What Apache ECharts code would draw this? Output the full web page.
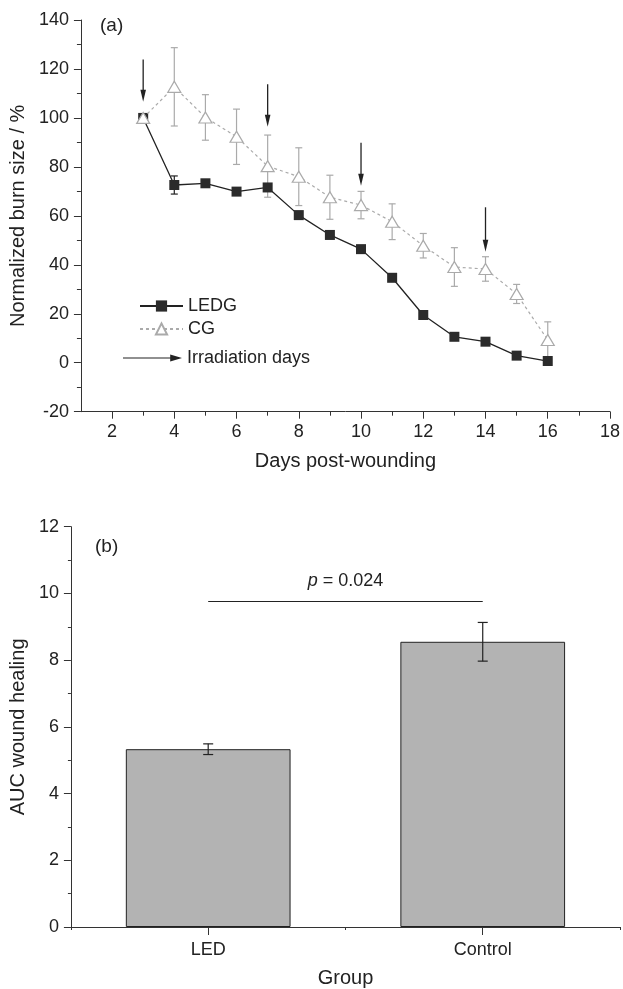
<!DOCTYPE html>
<html><head><meta charset="utf-8">
<script src="https://cdn.jsdelivr.net/npm/echarts@6/dist/echarts.min.js"></script>
<style>html,body{margin:0;padding:0;background:#fff}#c{width:623px;height:989px}</style>
</head><body><div id="c"></div>
<script>
// ---- Panel (a) data ----
const days = [3,4,5,6,7,8,9,10,11,12,13,14,15,16];
const ledgMean = [100,72.6,73.3,69.9,71.6,60.3,52.2,46.4,34.7,19.5,10.6,8.6,2.9,0.7];
const ledgErr  = [0.5,3.7,1,1,1,1.5,1.5,0.8,0.8,0.8,0.8,0.8,0.8,1];
const cgMean   = [100,112.7,100.2,92.3,80.3,76,67.6,64.4,57.6,47.8,39.1,38.3,28.1,9.3];
const cgErr    = [0.5,16,9.3,11.3,12.7,11.8,9,5.6,7.3,5,7.9,5,3.9,7.4];
const irradiationDays = [3,7,10,14];
const arrowTop = [123.9,113.8,89.9,63.5];
const arrowTip = [106.6,96.4,72.3,45.3];
const xTickEven = [2,4,6,8,10,12,14,16,18];
const xTickOdd  = [3,5,7,9,11,13,15,17];
// ---- Panel (b) data ----
const groups = ['LED','Control'];
const aucMean = [5.33,8.55];
const aucErr  = [0.16,0.58];
const pValue = '0.024';
const pLineY = 9.78;

const FONT = 'Liberation Sans, Arial, sans-serif';
const TXT = '#222';
const AX = '#333';

function errRender(color, capHalf){
  return function(params, api){
    const x = api.value(0), lo = api.value(1), hi = api.value(2);
    const p1 = api.coord([x, hi]), p2 = api.coord([x, lo]);
    const style = {stroke: color, lineWidth: 1.2, fill: null};
    return {type:'group', children:[
      {type:'line', shape:{x1:p1[0],y1:p1[1],x2:p2[0],y2:p2[1]}, style},
      {type:'line', shape:{x1:p1[0]-capHalf,y1:p1[1],x2:p1[0]+capHalf,y2:p1[1]}, style},
      {type:'line', shape:{x1:p2[0]-capHalf,y1:p2[1],x2:p2[0]+capHalf,y2:p2[1]}, style}
    ]};
  };
}
function arrowRender(params, api){
  const x = api.value(0);
  const a = api.coord([x, api.value(1)]), b = api.coord([x, api.value(2)]);
  return {type:'group', children:[
    {type:'line', shape:{x1:a[0],y1:a[1],x2:b[0],y2:b[1]-8}, style:{stroke:'#222', lineWidth:1.3}},
    {type:'polygon', shape:{points:[[b[0]-2.8,b[1]-12],[b[0]+2.8,b[1]-12],[b[0],b[1]]]}, style:{fill:'#222'}}
  ]};
}

const chart = echarts.init(document.getElementById('c'));
const yAxisCommon = {
  axisLine:{show:true, lineStyle:{color:AX, width:1}},
  axisTick:{show:true, length:7, lineStyle:{color:AX}},
  minorTick:{show:true, splitNumber:2, length:4, lineStyle:{color:AX}},
  splitLine:{show:false}, minorSplitLine:{show:false},
  axisLabel:{fontSize:18, color:TXT, margin:12, fontFamily:FONT},
  nameLocation:'middle', nameTextStyle:{fontSize:20, color:TXT, fontFamily:FONT}
};
chart.setOption({
  animation:false,
  backgroundColor:'#fff',
  textStyle:{fontFamily:FONT},
  grid:[
    {left:80, right:13, top:20, height:391.7},
    {left:69, right:3, top:526.7, height:402}
  ],
  xAxis:[
    {type:'value', gridIndex:0, min:1, max:18, interval:1, position:'bottom',
     axisLine:{show:true, onZero:false, lineStyle:{color:AX}},
     axisTick:{show:true, length:7, customValues:xTickEven, lineStyle:{color:AX}},
     axisLabel:{customValues:xTickEven, fontSize:18, color:TXT, margin:11, fontFamily:FONT},
     splitLine:{show:false},
     name:'Days post-wounding', nameLocation:'middle', nameGap:40,
     nameTextStyle:{fontSize:20, color:TXT, fontFamily:FONT}},
    {type:'value', gridIndex:0, min:1, max:18, interval:1, position:'bottom',
     axisLine:{show:false, onZero:false},
     axisTick:{show:true, length:4, customValues:xTickOdd, lineStyle:{color:AX}},
     axisLabel:{show:false}, splitLine:{show:false}},
    {type:'category', gridIndex:1, data:groups, position:'bottom',
     axisLine:{show:true, onZero:false, lineStyle:{color:AX}},
     axisTick:{show:true, alignWithLabel:true, length:8, lineStyle:{color:AX}},
     axisLabel:{fontSize:18, color:TXT, margin:14, fontFamily:FONT},
     name:'Group', nameLocation:'middle', nameGap:41,
     nameTextStyle:{fontSize:20, color:TXT, fontFamily:FONT}},
    {type:'category', gridIndex:1, data:groups, position:'bottom',
     axisLine:{show:false, onZero:false},
     axisTick:{show:true, alignWithLabel:false, length:3, lineStyle:{color:AX}},
     axisLabel:{show:false}}
  ],
  yAxis:[
    Object.assign({}, yAxisCommon, {type:'value', gridIndex:0, min:-20, max:140, interval:20,
      name:'Normalized burn size / %', nameGap:47}),
    Object.assign({}, yAxisCommon, {type:'value', gridIndex:1, min:0, max:12, interval:2,
      minorTick:{show:true, splitNumber:2, length:3, lineStyle:{color:AX}},
      name:'AUC wound healing', nameGap:37})
  ],
  legend:[
    {data:['LEDG','CG'], orient:'vertical', left:139, top:297, padding:0,
     itemWidth:43, itemHeight:14, itemGap:5, selectedMode:false,
     textStyle:{fontSize:18, color:TXT, fontFamily:FONT}},
    {data:[{name:'Irradiation days', icon:'path://M0,4.4 L48,4.4 L48,1.5 L60,5 L48,8.5 L48,5.6 L0,5.6 Z'}],
     left:123, top:349, padding:0, itemWidth:59, itemHeight:8, selectedMode:false,
     textStyle:{fontSize:18, color:TXT, fontFamily:FONT}}
  ],
  graphic:[
    {type:'text', left:100, top:16, style:{text:'(a)', fontSize:19, fill:TXT, fontFamily:FONT}},
    {type:'text', left:95, top:537, style:{text:'(b)', fontSize:19, fill:TXT, fontFamily:FONT}}
  ],
  series:[
    {type:'custom', name:'cgErr', xAxisIndex:0, yAxisIndex:0, z:1, silent:true,
     renderItem:errRender('#aaaaaa', 3.5), encode:{x:0, y:[1,2]},
     data:days.map((d,i)=>[d, cgMean[i]-cgErr[i], cgMean[i]+cgErr[i]])},
    {type:'custom', name:'ledgErr', xAxisIndex:0, yAxisIndex:0, z:2, silent:true,
     renderItem:errRender('#222', 3.5), encode:{x:0, y:[1,2]},
     data:days.map((d,i)=>[d, ledgMean[i]-ledgErr[i], ledgMean[i]+ledgErr[i]])},
    {type:'line', name:'LEDG', xAxisIndex:0, yAxisIndex:0, z:3,
     data:days.map((d,i)=>[d, ledgMean[i]]),
     symbol:'rect', symbolSize:10, showAllSymbol:true,
     lineStyle:{color:'#222', width:1.3},
     itemStyle:{color:'#2b2b2b', borderColor:'#2b2b2b', borderWidth:0}},
    {type:'line', name:'CG', xAxisIndex:0, yAxisIndex:0, z:4,
     data:days.map((d,i)=>[d, cgMean[i]]),
     symbol:'triangle', symbolSize:[13,11], showAllSymbol:true,
     lineStyle:{color:'#aaaaaa', width:1.2, type:[3,3]},
     itemStyle:{color:'#fff', borderColor:'#aaaaaa', borderWidth:1.2}},
    {type:'custom', name:'Irradiation days', xAxisIndex:0, yAxisIndex:0, z:5, silent:true,
     renderItem:arrowRender, encode:{x:0, y:[1,2]}, itemStyle:{color:'#222'},
     data:irradiationDays.map((d,i)=>[d, arrowTop[i], arrowTip[i]])},
    {type:'bar', name:'AUC', xAxisIndex:2, yAxisIndex:1, barWidth:'60%', z:2,
     data:aucMean,
     itemStyle:{color:'#b3b3b3', borderColor:'#222', borderWidth:1},
     markLine:{silent:true, symbol:'none', animation:false,
       lineStyle:{color:'#222', width:1.2, type:'solid'},
       label:{show:true, position:'middle', distance:11,
         formatter:'{i|p} = ' + pValue, fontSize:18, color:TXT, fontFamily:FONT,
         rich:{i:{fontStyle:'italic', fontSize:18, color:TXT, fontFamily:FONT}}},
       data:[[{coord:[groups[0], pLineY]}, {coord:[groups[1], pLineY]}]]}},
    {type:'custom', name:'aucErr', xAxisIndex:2, yAxisIndex:1, z:3, silent:true,
     renderItem:errRender('#222', 5), encode:{x:0, y:[1,2]},
     data:groups.map((g,i)=>[i, aucMean[i]-aucErr[i], aucMean[i]+aucErr[i]])}
  ]
});
</script></body></html>
